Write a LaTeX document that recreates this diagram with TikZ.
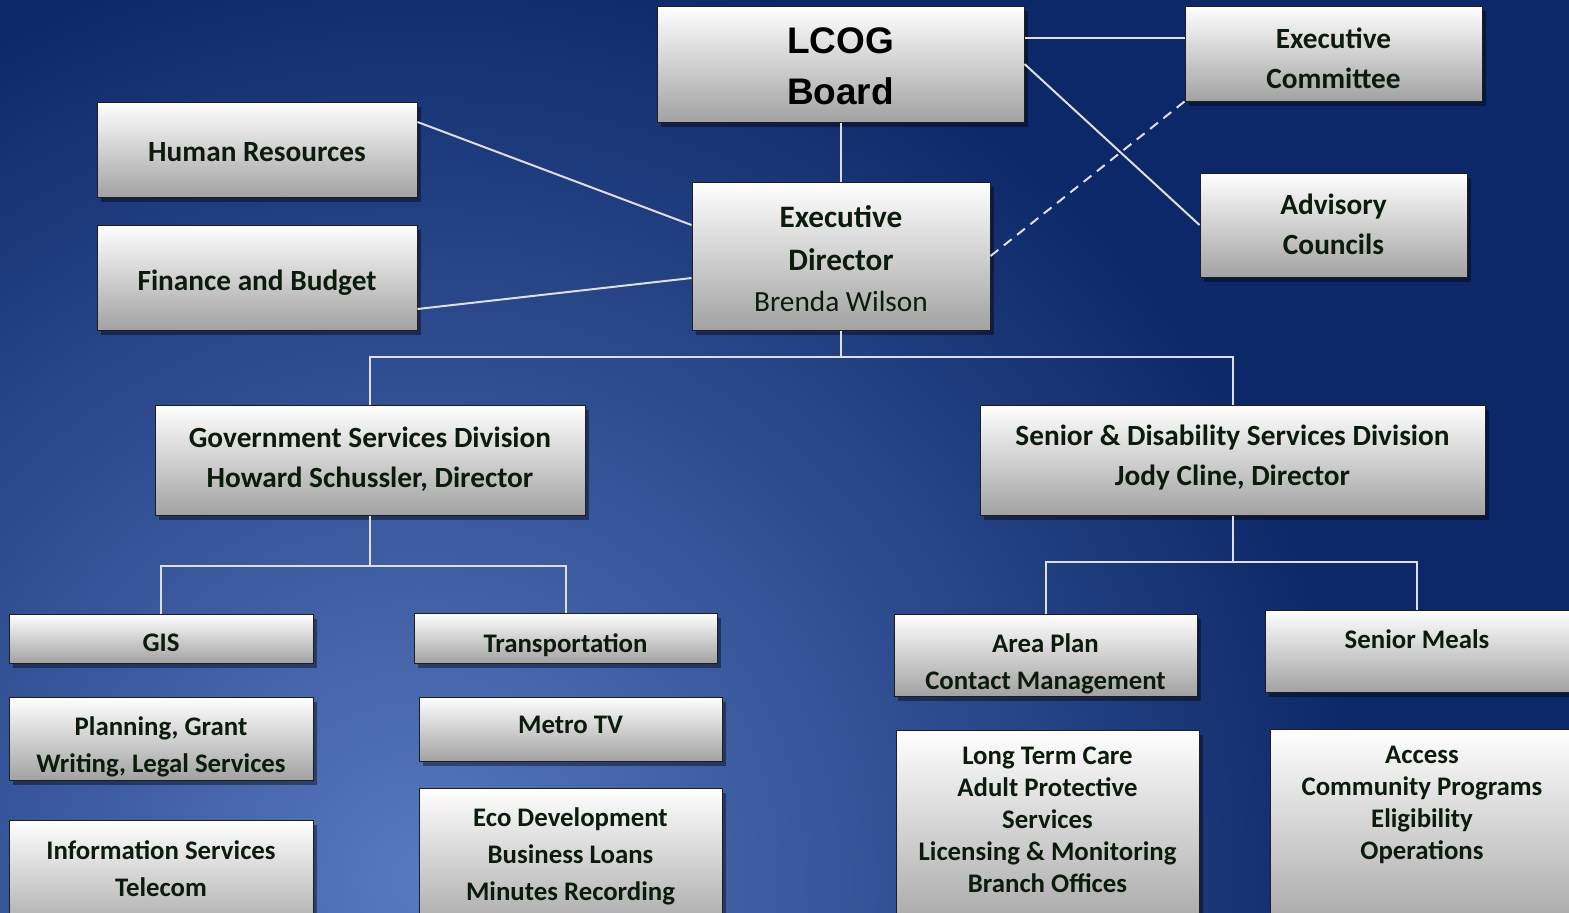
\documentclass[tikz,border=0pt]{standalone}
\usepackage{fontspec}
\setmainfont{Carlito}
\newfontfamily\arialfont{Liberation Sans}
\usetikzlibrary{shadows}
\definecolor{bgin}{RGB}{88,120,192}
\definecolor{bgout}{RGB}{12,40,104}
\definecolor{txt}{RGB}{12,28,12}
\definecolor{boxbot}{RGB}{162,162,162}
\definecolor{lnc}{RGB}{222,222,222}
\definecolor{bord}{RGB}{30,30,30}
\begin{document}
\begin{tikzpicture}[x=0.5pt,y=-0.5pt,
  box/.style={draw=bord, line width=0.5pt, top color=white, bottom color=boxbot, inner sep=0pt,
    drop shadow={shadow xshift=2pt, shadow yshift=-2.5pt, opacity=0.4, fill=black}},
  lbl/.style={anchor=north, inner sep=0pt, align=center, text=txt, font=\bfseries\fontsize{14.65}{20}\selectfont},
  sml/.style={lbl, font=\bfseries\fontsize{13.4}{#1}\selectfont},
  conn/.style={draw=lnc, line width=1pt}]
\useasboundingbox (0,0) rectangle (1569,912);
\begin{scope}
  \clip (0,0) rectangle (1569,912);
  \fill[bgout] (0,0) rectangle (1569,912);
  \shade[inner color=bgin, outer color=bgout] (420,880) circle (475pt);
\end{scope}

% boxes
\node[box, minimum width=183.5pt, minimum height=58pt] (lcog) at (840.5,64) {};
\node[box, minimum width=148.5pt, minimum height=47.5pt] (ec) at (1333.5,53.5) {};
\node[box, minimum width=133.5pt, minimum height=52pt] (adv) at (1333.5,225) {};
\node[box, minimum width=160pt, minimum height=47.5pt] (hr) at (257,149.5) {};
\node[box, minimum width=160pt, minimum height=52.5pt] (fin) at (257,277.5) {};
\node[box, minimum width=149pt, minimum height=74pt] (ed) at (841,256) {};
\node[box, minimum width=215pt, minimum height=55pt] (gov) at (370,460) {};
\node[box, minimum width=252.5pt, minimum height=55pt] (sd) at (1232.5,460) {};
\node[box, minimum width=152pt, minimum height=24.5pt] (gis) at (161,638.5) {};
\node[box, minimum width=151.5pt, minimum height=25pt] (tr) at (565.5,638) {};
\node[box, minimum width=152pt, minimum height=41.5pt] (pl) at (161,738.5) {};
\node[box, minimum width=151.5pt, minimum height=32pt] (mtv) at (570.5,729) {};
\node[box, minimum width=152pt, minimum height=60pt] (info) at (161,880) {};
\node[box, minimum width=151.5pt, minimum height=76pt] (eco) at (570.5,864) {};
\node[box, minimum width=151.5pt, minimum height=41pt] (ap) at (1045.5,655) {};
\node[box, minimum width=152pt, minimum height=41pt] (sm) at (1417,651) {};
\node[box, minimum width=151.5pt, minimum height=105pt] (ltc) at (1047.5,835) {};
\node[box, minimum width=152pt, minimum height=105.5pt] (acc) at (1422,834.5) {};

% connectors
\draw[conn] (ed.north) -- (ed.north |- lcog.south);
\draw[conn] (lcog.east |- 0,38) -- (ec.west |- 0,38);
\draw[conn] (lcog.east) -- (adv.west);
\draw[conn, dash pattern=on 5pt off 3.5pt] (ed.east) -- (ec.south west);
\draw[conn] (hr.east |- 0,122) -- (ed.west |- 0,225);
\draw[conn] (fin.east |- 0,309) -- (ed.west |- 0,278);
\coordinate (b1) at (841,357);
\draw[conn] (ed.south) -- (b1);
\draw[conn] (gov.north) |- (b1) -| (sd.north);
\coordinate (b2) at (370,566);
\draw[conn] (gov.south) -- (b2);
\draw[conn] (gis.north) |- (b2) -| (tr.north);
\coordinate (b3) at (1232.5,562);
\draw[conn] (sd.south) -- (b3);
\draw[conn] (ap.north) |- (b3) -| (sm.north);

% texts
\node[lbl, text=black, font=\arialfont\bfseries\fontsize{18.5}{25.5}\selectfont] (lcogt) at (840.5,27) {LCOG\\Board};
\node[lbl] (ect) at (1333.5,27) {Executive\\Committee};
\node[lbl] (advt) at (1333.5,194) {Advisory\\Councils};
\node[lbl] (hrt) at (257,142) {Human Resources};
\node[lbl] (fint) at (257,270) {Finance and Budget};
\node[lbl, font=\bfseries\fontsize{15.6}{21.5}\selectfont] (edt) at (841,205) {Executive\\Director\\[-0.75pt]{\mdseries\fontsize{14.65}{20}\selectfont Brenda Wilson}};
\node[lbl] (govt) at (370,427) {Government Services Division\\Howard Schussler, Director};
\node[lbl] (sdt) at (1232.5,425) {Senior \& Disability Services Division\\Jody Cline, Director};
\node[sml=18.5] (gist) at (161,634) {GIS};
\node[sml=18.5] (trt) at (565.5,633) {Transportation};
\node[sml=18.5] (plt) at (161,716) {Planning, Grant\\Writing, Legal Services};
\node[sml=18.5] (mtvt) at (570.5,716) {Metro TV};
\node[sml=18.5] (infot) at (161,840) {Information Services\\Telecom};
\node[sml=18.5] (ecot) at (570.5,807) {Eco Development\\Business Loans\\Minutes Recording};
\node[sml=18.5] (apt) at (1045.5,633) {Area Plan\\Contact Management};
\node[sml=18.5] (smt) at (1417,629) {Senior Meals};
\node[sml=16] (ltct) at (1047.5,747) {Long Term Care\\Adult Protective\\Services\\Licensing \& Monitoring\\Branch Offices};
\node[sml=16] (acct) at (1422,746) {Access\\Community Programs\\Eligibility\\Operations};
\end{tikzpicture}
\end{document}
